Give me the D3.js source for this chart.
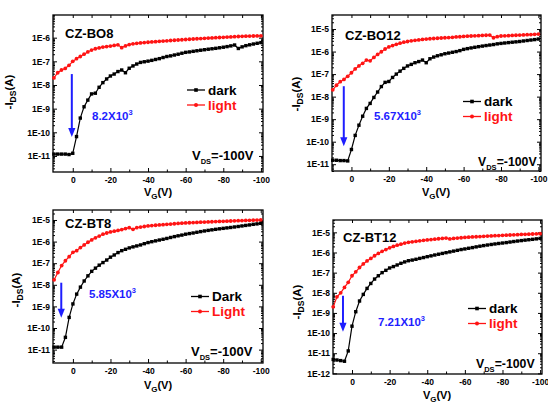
<!DOCTYPE html>
<html>
<head>
<meta charset="utf-8">
<script src="https://cdn.jsdelivr.net/npm/d3@7"></script>
<style>
body { margin: 0; background: #fff; }
text { font-family: "Liberation Sans", Arial, sans-serif; font-weight: bold; }
</style>
</head>
<body>
<div id="chart"></div>
<script>
// gate voltage, one reading every 2 V
const vg = [10, 8, 6, 4, 2, 0, -2, -4, -6, -8, -10, -12, -14, -16, -18, -20,
  -22, -24, -26, -28, -30, -32, -34, -36, -38, -40, -42, -44, -46, -48, -50,
  -52, -54, -56, -58, -60, -62, -64, -66, -68, -70, -72, -74, -76, -78, -80,
  -82, -84, -86, -88, -90, -92, -94, -96, -98, -100];

// CZ-BO8
const bo8Dark = [1.2e-11, 1.2e-11, 1.2e-11, 1.2e-11, 1.15e-11, 1.3e-11,
  6.6e-11, 4.0e-10, 1.2e-9, 2.3e-9, 4.2e-9, 4.5e-9, 8.0e-9, 1.26e-8, 1.8e-8, 2.4e-8,
  2.9e-8, 3.7e-8, 4.3e-8, 3.3e-8, 5.1e-8, 6.4e-8, 7.7e-8, 9.0e-8, 9.6e-8, 1.02e-7,
  1.1e-7, 1.2e-7, 1.3e-7, 1.45e-7, 1.6e-7, 1.7e-7, 1.85e-7, 2.0e-7, 2.2e-7, 2.4e-7,
  2.5e-7, 2.65e-7, 2.8e-7, 2.95e-7, 3.1e-7, 3.25e-7, 3.4e-7, 3.55e-7, 3.75e-7, 3.95e-7,
  4.2e-7, 4.5e-7, 4.9e-7, 3.5e-7, 4.1e-7, 4.6e-7, 5.0e-7, 5.4e-7, 5.8e-7, 6.2e-7];
const bo8Light = [2.0e-8, 3.3e-8, 4.3e-8, 5.0e-8, 6.8e-8, 1.0e-7,
  1.3e-7, 1.6e-7, 2.0e-7, 2.5e-7, 3.0e-7, 3.4e-7, 3.7e-7, 4.0e-7, 4.2e-7, 4.4e-7,
  4.7e-7, 5.0e-7, 3.8e-7, 4.5e-7, 5.1e-7, 5.5e-7, 5.8e-7, 6.0e-7, 6.2e-7, 6.4e-7,
  6.6e-7, 6.8e-7, 7.0e-7, 7.2e-7, 7.4e-7, 7.6e-7, 7.8e-7, 8.0e-7, 8.2e-7, 8.4e-7,
  8.6e-7, 8.8e-7, 9.0e-7, 9.2e-7, 9.4e-7, 9.6e-7, 9.8e-7, 1.0e-6, 1.02e-6, 1.04e-6,
  1.06e-6, 1.08e-6, 1.1e-6, 1.12e-6, 1.14e-6, 1.16e-6, 1.17e-6, 1.18e-6, 1.19e-6, 1.2e-6];

// CZ-BO12
const bo12Dark = [1.5e-11, 1.5e-11, 1.45e-11, 1.45e-11, 1.4e-11, 4.5e-11,
  1.9e-10, 5.4e-10, 1.35e-9, 3.0e-9, 5.0e-9, 9.2e-9, 1.6e-8, 2.8e-8, 4.3e-8, 4.7e-8,
  7.1e-8, 1.0e-7, 1.35e-7, 1.8e-7, 2.3e-7, 2.7e-7, 3.2e-7, 3.6e-7, 4.2e-7, 3.2e-7,
  4.8e-7, 5.7e-7, 6.5e-7, 7.2e-7, 8.0e-7, 8.6e-7, 9.3e-7, 1.0e-6, 1.1e-6, 1.25e-6,
  1.35e-6, 1.45e-6, 1.55e-6, 1.65e-6, 1.75e-6, 1.85e-6, 1.95e-6, 2.05e-6, 2.2e-6, 2.3e-6,
  2.4e-6, 2.5e-6, 2.6e-6, 2.7e-6, 2.8e-6, 2.95e-6, 3.1e-6, 3.25e-6, 3.4e-6, 3.6e-6];
const bo12Light = [2.0e-8, 3.2e-8, 4.6e-8, 5.8e-8, 8.0e-8, 1.15e-7,
  1.7e-7, 2.3e-7, 3.0e-7, 4.2e-7, 3.9e-7, 5.5e-7, 7.5e-7, 9.8e-7, 1.3e-6, 1.6e-6,
  1.85e-6, 2.1e-6, 2.35e-6, 2.6e-6, 2.8e-6, 3.0e-6, 3.15e-6, 3.3e-6, 3.45e-6, 3.6e-6,
  3.7e-6, 3.8e-6, 3.9e-6, 4.0e-6, 4.1e-6, 4.2e-6, 4.3e-6, 4.45e-6, 4.55e-6, 4.7e-6,
  4.8e-6, 4.9e-6, 5.0e-6, 5.1e-6, 5.2e-6, 5.3e-6, 5.4e-6, 4.1e-6, 4.6e-6, 4.9e-6,
  5.0e-6, 5.1e-6, 5.2e-6, 5.3e-6, 5.4e-6, 5.5e-6, 5.6e-6, 5.7e-6, 5.85e-6, 6.0e-6];

// CZ-BT8
const bt8Dark = [1.3e-11, 1.3e-11, 1.3e-11, 3.7e-11, 3.1e-10, 1.3e-9,
  3.7e-9, 7.8e-9, 1.5e-8, 2.6e-8, 4.2e-8, 5.9e-8, 8.1e-8, 1.07e-7, 1.4e-7, 1.9e-7,
  2.4e-7, 3.1e-7, 3.8e-7, 4.4e-7, 5.1e-7, 5.7e-7, 6.3e-7, 7.0e-7, 8.0e-7, 9.0e-7,
  9.9e-7, 1.08e-6, 1.18e-6, 1.28e-6, 1.4e-6, 1.55e-6, 1.7e-6, 1.85e-6, 2.0e-6, 2.2e-6,
  2.35e-6, 2.5e-6, 2.7e-6, 2.9e-6, 3.1e-6, 3.3e-6, 3.5e-6, 3.7e-6, 3.9e-6, 4.1e-6,
  4.3e-6, 4.5e-6, 4.75e-6, 5.0e-6, 5.3e-6, 5.6e-6, 5.9e-6, 6.3e-6, 6.6e-6, 7.0e-6];
const bt8Light = [1.7e-8, 3.7e-8, 7.8e-8, 1.3e-7, 2.0e-7, 3.2e-7,
  3.8e-7, 5.3e-7, 7.0e-7, 9.3e-7, 1.2e-6, 1.5e-6, 1.8e-6, 2.2e-6, 2.5e-6, 2.8e-6,
  3.05e-6, 3.3e-6, 3.6e-6, 4.0e-6, 4.4e-6, 3.7e-6, 4.4e-6, 4.7e-6, 5.0e-6, 5.3e-6,
  5.5e-6, 5.7e-6, 5.9e-6, 6.1e-6, 6.3e-6, 6.5e-6, 6.7e-6, 6.9e-6, 7.1e-6, 7.3e-6,
  7.45e-6, 7.6e-6, 7.75e-6, 7.9e-6, 8.0e-6, 8.15e-6, 8.3e-6, 8.45e-6, 8.6e-6, 8.7e-6,
  8.85e-6, 9.0e-6, 9.1e-6, 9.25e-6, 9.4e-6, 9.5e-6, 9.65e-6, 9.8e-6, 9.9e-6, 1.0e-5];

// CZ-BT12
const bt12Dark = [4.9e-12, 4.6e-12, 4.3e-12, 4.0e-12, 1.3e-11, 2.2e-10,
  1.15e-9, 3.9e-9, 8.3e-9, 1.65e-8, 2.9e-8, 4.8e-8, 7.0e-8, 1.0e-7, 1.3e-7, 1.7e-7,
  2.0e-7, 2.4e-7, 2.9e-7, 3.4e-7, 3.9e-7, 4.2e-7, 4.6e-7, 5.1e-7, 5.6e-7, 6.2e-7,
  6.8e-7, 7.5e-7, 8.2e-7, 9.0e-7, 9.8e-7, 1.07e-6, 1.17e-6, 1.28e-6, 1.4e-6, 1.5e-6,
  1.62e-6, 1.75e-6, 1.9e-6, 2.05e-6, 2.2e-6, 2.35e-6, 2.5e-6, 2.65e-6, 2.8e-6, 2.95e-6,
  3.1e-6, 3.3e-6, 3.5e-6, 3.7e-6, 3.9e-6, 4.1e-6, 4.3e-6, 4.5e-6, 4.75e-6, 5.0e-6];
const bt12Light = [2.0e-9, 6.3e-9, 1.0e-8, 1.85e-8, 3.3e-8, 7.0e-8,
  1.1e-7, 1.8e-7, 2.7e-7, 3.8e-7, 5.1e-7, 6.9e-7, 9.0e-7, 1.14e-6, 1.4e-6, 1.7e-6,
  2.0e-6, 2.3e-6, 2.6e-6, 2.95e-6, 3.2e-6, 3.4e-6, 3.6e-6, 3.8e-6, 4.0e-6, 4.2e-6,
  4.4e-6, 4.6e-6, 4.8e-6, 5.0e-6, 5.2e-6, 4.7e-6, 5.0e-6, 5.2e-6, 5.4e-6, 5.6e-6,
  5.75e-6, 5.9e-6, 6.05e-6, 6.2e-6, 6.35e-6, 6.5e-6, 6.65e-6, 6.8e-6, 6.95e-6, 7.1e-6,
  7.25e-6, 7.4e-6, 7.55e-6, 7.7e-6, 7.85e-6, 8.0e-6, 8.15e-6, 8.3e-6, 8.45e-6, 8.6e-6];

const xMajor = [0, -20, -40, -60, -80, -100];
const xMinor = [-10, -30, -50, -70, -90];
const namesLower = ['dark', 'light'];
const namesUpper = ['Dark', 'Light'];

const panels = [
  { title: 'CZ-BO8', dark: bo8Dark, light: bo8Light, names: namesLower, ratio: '8.2',
    box: [53, 15, 263, 172], xDom: [10.5, -101.1], yDom: [2.1e-12, 9.1e-6],
    yTicks: [1e-11, 1e-10, 1e-9, 1e-8, 1e-7, 1e-6],
    titleAt: [65, 38], legendAt: [187, 90], ratioAt: [92, 119.5], arrow: [0.5, 2.9e-8, 6.3e-11],
    vdsAt: [192, 160], vdsSize: 13, xLabelAt: [158, 196], yLabelAt: [13, 92] },
  { title: 'CZ-BO12', dark: bo12Dark, light: bo12Light, names: namesLower, ratio: '5.67',
    box: [332, 15, 541, 171], xDom: [10.4, -101.4], yDom: [5e-12, 4.2e-5],
    yTicks: [1e-11, 1e-10, 1e-9, 1e-8, 1e-7, 1e-6, 1e-5],
    titleAt: [345, 40], legendAt: [463, 101.5], ratioAt: [374, 120], arrow: [4.1, 2.9e-8, 6.3e-11],
    vdsAt: [478, 166], vdsSize: 12.3, xLabelAt: [436, 196], yLabelAt: [300, 94] },
  { title: 'CZ-BT8', dark: bt8Dark, light: bt8Light, names: namesUpper, ratio: '5.85',
    box: [53, 210, 263, 363], xDom: [10.6, -101.2], yDom: [2.4e-12, 2.9e-5],
    yTicks: [1e-11, 1e-10, 1e-9, 1e-8, 1e-7, 1e-6, 1e-5],
    titleAt: [65, 228], legendAt: [191, 296.5], ratioAt: [89, 297.5], arrow: [6.2, 1.25e-8, 3e-10],
    vdsAt: [191, 356], vdsSize: 13, xLabelAt: [158, 389], yLabelAt: [20, 290] },
  { title: 'CZ-BT12', dark: bt12Dark, light: bt12Light, names: namesLower, ratio: '7.21',
    box: [333, 220, 542, 374], xDom: [10.1, -101], yDom: [9.3e-13, 4.1e-5],
    yTicks: [1e-12, 1e-11, 1e-10, 1e-9, 1e-8, 1e-7, 1e-6, 1e-5],
    titleAt: [343, 242], legendAt: [468, 308.5], ratioAt: [378, 326], arrow: [4.8, 7.1e-9, 1.15e-10],
    vdsAt: [476, 368], vdsSize: 12.3, xLabelAt: [437, 399], yLabelAt: [301, 302] }
];

const RED = '#ff1414';
const BLUE = '#1e1eff';

const svg = d3.select('#chart').append('svg')
  .attr('width', 548)
  .attr('height', 403);

function styleAxis(sel, withText) {
  sel.select('.domain').remove();
  sel.selectAll('.tick line').attr('stroke', '#000').attr('stroke-width', 1);
  sel.selectAll('text')
    .attr('font-family', '"Liberation Sans", Arial, sans-serif')
    .attr('font-weight', 'bold')
    .attr('font-size', 8.5)
    .attr('fill', '#000');
  if (!withText) sel.selectAll('text').remove();
}

panels.forEach(function(p) {
  const [x0, y0, x1, y1] = p.box;
  const x = d3.scaleLinear().domain(p.xDom).range([x0, x1]);
  const y = d3.scaleLog().domain(p.yDom).range([y1, y0]);
  const yMinor = y.ticks().filter(t => !p.yTicks.some(m => Math.abs(t / m - 1) < 1e-6));
  const g = svg.append('g');

  // ticks on all four sides, pointing inward
  g.append('g').attr('transform', 'translate(0,' + y1 + ')')
    .call(d3.axisBottom(x).tickValues(xMajor).tickSize(-4).tickPadding(5).tickFormat(d => d))
    .call(s => styleAxis(s, true));
  g.append('g').attr('transform', 'translate(0,' + y1 + ')')
    .call(d3.axisBottom(x).tickValues(xMinor).tickSize(-2.5))
    .call(s => styleAxis(s, false));
  g.append('g').attr('transform', 'translate(0,' + y0 + ')')
    .call(d3.axisTop(x).tickValues(xMajor.concat(xMinor)).tickSize(-3))
    .call(s => styleAxis(s, false));
  g.append('g').attr('transform', 'translate(' + x0 + ',0)')
    .call(d3.axisLeft(y).tickValues(p.yTicks).tickSize(-4).tickPadding(3)
      .tickFormat(d => '1E' + Math.round(Math.log10(d))))
    .call(s => styleAxis(s, true));
  g.append('g').attr('transform', 'translate(' + x0 + ',0)')
    .call(d3.axisLeft(y).tickValues(yMinor).tickSize(-2))
    .call(s => styleAxis(s, false));
  g.append('g').attr('transform', 'translate(' + x1 + ',0)')
    .call(d3.axisRight(y).tickValues(p.yTicks).tickSize(-4))
    .call(s => styleAxis(s, false));
  g.append('g').attr('transform', 'translate(' + x1 + ',0)')
    .call(d3.axisRight(y).tickValues(yMinor).tickSize(-2))
    .call(s => styleAxis(s, false));

  g.append('rect')
    .attr('x', x0).attr('y', y0)
    .attr('width', x1 - x0).attr('height', y1 - y0)
    .attr('fill', 'none').attr('stroke', '#000').attr('stroke-width', 1.3);

  const line = d3.line().x((d, i) => x(vg[i])).y(d => y(d));

  g.append('path').datum(p.light)
    .attr('d', line).attr('fill', 'none').attr('stroke', RED).attr('stroke-width', 1.2);
  g.append('g').selectAll('circle').data(p.light).enter().append('circle')
    .attr('cx', (d, i) => x(vg[i])).attr('cy', d => y(d))
    .attr('r', 1.9).attr('fill', RED);

  g.append('path').datum(p.dark)
    .attr('d', line).attr('fill', 'none').attr('stroke', '#000').attr('stroke-width', 1.2);
  g.append('g').selectAll('rect').data(p.dark).enter().append('rect')
    .attr('x', (d, i) => x(vg[i]) - 1.7).attr('y', d => y(d) - 1.7)
    .attr('width', 3.4).attr('height', 3.4).attr('fill', '#000');

  // panel title
  g.append('text').attr('x', p.titleAt[0]).attr('y', p.titleAt[1])
    .attr('font-size', 13).text(p.title);

  // legend
  [['#000', 0], [RED, 1]].forEach(function(c) {
    const ly = p.legendAt[1] + c[1] * 15;
    const lx = p.legendAt[0];
    g.append('line').attr('x1', lx).attr('x2', lx + 18).attr('y1', ly).attr('y2', ly)
      .attr('stroke', c[0]).attr('stroke-width', 1.3);
    if (c[1] === 0) {
      g.append('rect').attr('x', lx + 7.2).attr('y', ly - 1.8).attr('width', 3.6).attr('height', 3.6).attr('fill', c[0]);
    } else {
      g.append('circle').attr('cx', lx + 9).attr('cy', ly).attr('r', 2).attr('fill', c[0]);
    }
    g.append('text').attr('x', lx + 21).attr('y', ly + 4.8)
      .attr('font-size', 13.5).attr('fill', c[0]).text(p.names[c[1]]);
  });

  // on/off ratio
  const rt = g.append('text').attr('x', p.ratioAt[0]).attr('y', p.ratioAt[1])
    .attr('font-size', 11.5).attr('fill', BLUE);
  rt.append('tspan').text(p.ratio + 'X10');
  rt.append('tspan').attr('font-size', 7.5).attr('dy', -5).text('3');

  // arrow
  const ax = x(p.arrow[0]);
  const ayTop = y(p.arrow[1]);
  const ayTip = y(p.arrow[2]);
  g.append('line').attr('x1', ax).attr('x2', ax).attr('y1', ayTop).attr('y2', ayTip - 8)
    .attr('stroke', BLUE).attr('stroke-width', 2);
  g.append('path')
    .attr('d', 'M' + (ax - 3.6) + ',' + (ayTip - 9) + 'L' + (ax + 3.6) + ',' + (ayTip - 9) + 'L' + ax + ',' + ayTip + 'Z')
    .attr('fill', BLUE);

  // V_DS label
  const vt = g.append('text').attr('x', p.vdsAt[0]).attr('y', p.vdsAt[1]).attr('font-size', p.vdsSize);
  vt.append('tspan').text('V');
  vt.append('tspan').attr('font-size', 7.5).attr('dy', 3.5).text('DS');
  vt.append('tspan').attr('dy', -3.5).text('=-100V');

  // axis titles
  const xt = g.append('text').attr('x', p.xLabelAt[0]).attr('y', p.xLabelAt[1])
    .attr('text-anchor', 'middle').attr('font-size', 11);
  xt.append('tspan').text('V');
  xt.append('tspan').attr('font-size', 8).attr('dy', 2.5).text('G');
  xt.append('tspan').attr('dy', -2.5).text('(V)');

  const yt = g.append('text')
    .attr('transform', 'translate(' + p.yLabelAt[0] + ',' + p.yLabelAt[1] + ') rotate(-90)')
    .attr('text-anchor', 'middle').attr('font-size', 11.5);
  yt.append('tspan').text('-I');
  yt.append('tspan').attr('font-size', 8.5).attr('dy', 3).text('DS');
  yt.append('tspan').attr('dy', -3).text('(A)');
});
</script>
</body>
</html>
